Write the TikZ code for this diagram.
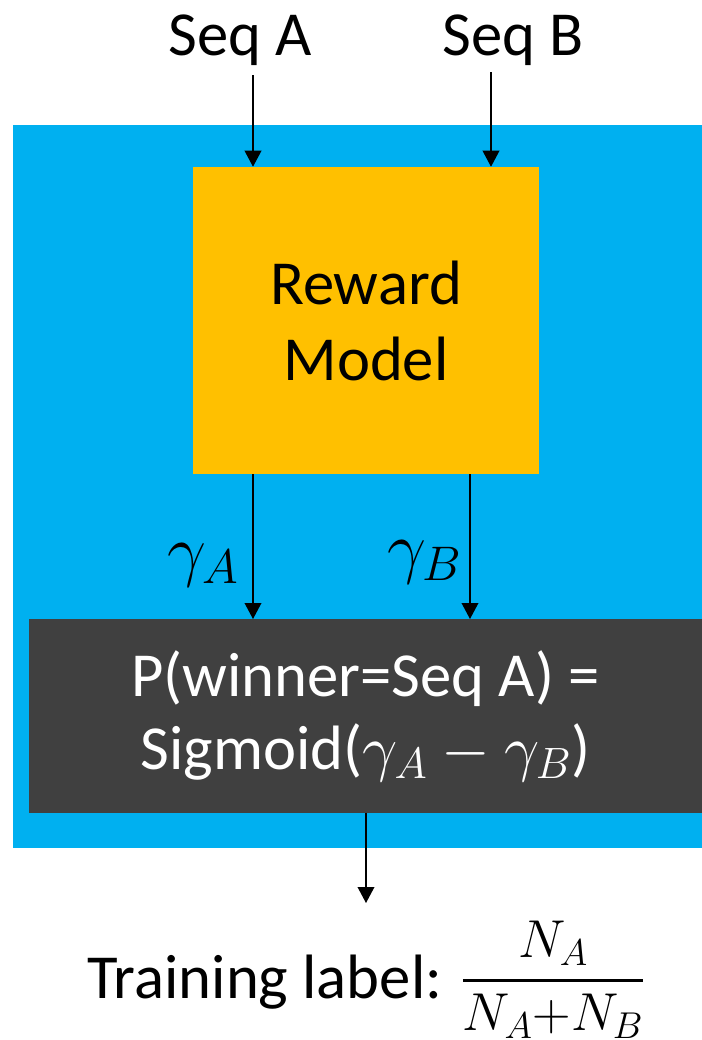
\RequirePackage{fix-cm}
\documentclass[tikz,border=0pt]{standalone}
\usepackage{amsmath}
\usepackage{fontspec}
\setmainfont{Carlito}
\usetikzlibrary{arrows.meta}
\definecolor{skyblue}{HTML}{00B0F0}
\definecolor{rmorange}{HTML}{FFC000}
\definecolor{darkgray}{HTML}{404040}
\tikzset{
  arr/.style={line width=1.1pt, -{Triangle[width=12.5pt,length=12pt]}},
  bigtext/.style={font=\fontsize{47}{57}\selectfont},
}
\begin{document}
\begin{tikzpicture}[x=0.75pt,y=-0.75pt]
\useasboundingbox (0,0) rectangle (702,1040);
% background blue panel
\fill[skyblue] (13,125) rectangle (702,848);
% reward model box
\node[fill=rmorange, minimum width=346*0.75pt, minimum height=307*0.75pt, inner sep=0pt,
      align=center, bigtext] (rm) at (366,320.5) {Reward\\Model};
% dark box
\node[fill=darkgray, minimum width=673*0.75pt, minimum height=194*0.75pt, inner sep=0pt,
      align=center, text=white, font=\fontsize{47}{55}\selectfont] (pbox) at (365.5,716)
      {P(winner=Seq A) =\\Sigmoid($\gamma_A-\gamma_B$)};
% inputs
\node[bigtext, anchor=base] (seqa) at (240.5,55) {Seq A};
\node[bigtext, anchor=base] (seqb) at (513,55) {Seq B};
\coordinate (ina) at (253,75);
\coordinate (inb) at (491,72);
\draw[arr] (ina) -- (ina |- rm.north);
\draw[arr] (inb) -- (inb |- rm.north);
% outputs of reward model
\coordinate (outa) at (253,474);
\coordinate (outb) at (470,474);
\draw[arr] (outa) -- (outa |- 0,619);
\draw[arr] (outb) -- (outb |- 0,619);
\node[font=\fontsize{52}{60}\selectfont, anchor=base east, inner sep=0pt] (ga) at (239,573) {$\gamma_A$};
\node[font=\fontsize{52}{60}\selectfont, anchor=base east, inner sep=0pt] (gb) at (462,570) {$\gamma_B$};
% final output
\coordinate (outp) at (366,813);
\coordinate (lblin) at (366,903);
\draw[arr] (outp) -- (lblin);
\node[bigtext, anchor=base] (lbl) at (366,998) {Training label: \raisebox{3pt}{\fontsize{40}{48}\selectfont$\genfrac{}{}{2.5pt}{0}{N_A}{N_A{+}N_B}$}};
\end{tikzpicture}
\end{document}
